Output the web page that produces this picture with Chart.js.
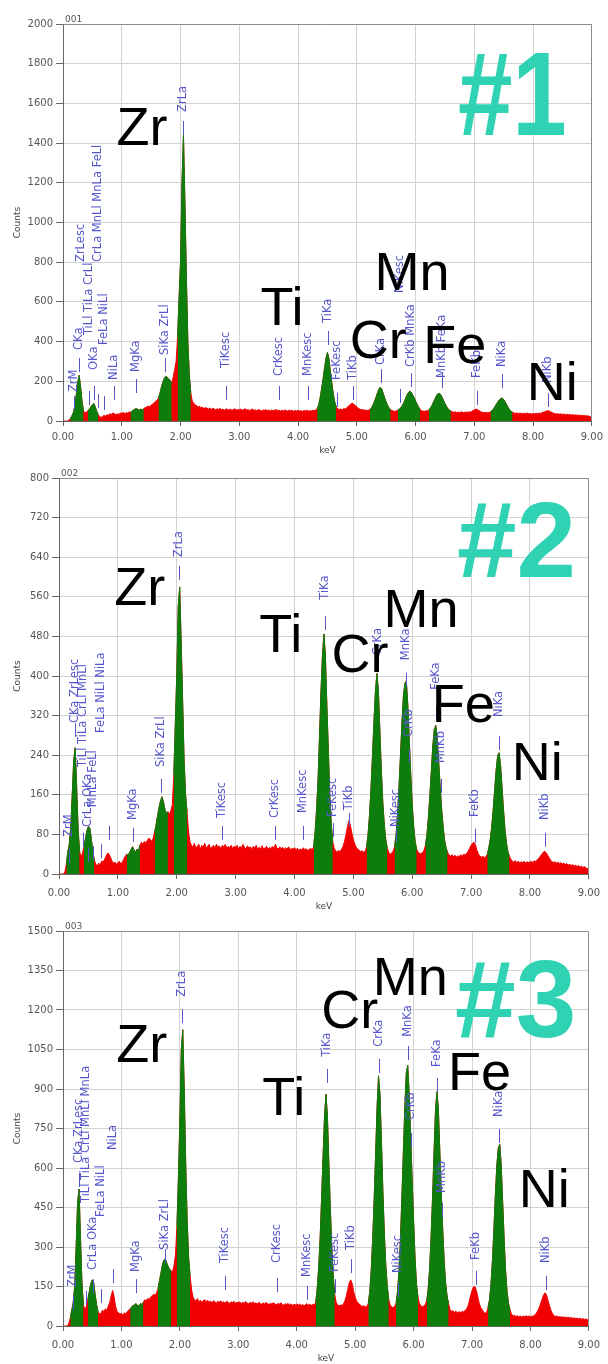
<!DOCTYPE html>
<html><head><meta charset="utf-8">
<script src="https://cdn.jsdelivr.net/npm/chart.js@4.4.0/dist/chart.umd.min.js"></script>
<style>
html,body{margin:0;padding:0;background:#fff;width:608px;height:1364px;overflow:hidden}
.panel{position:absolute;left:0;width:608px}
</style></head><body>
<div class="panel" style="top:0;height:456px"><canvas id="c1"></canvas></div>
<div class="panel" style="top:456px;height:456px"><canvas id="c2"></canvas></div>
<div class="panel" style="top:912px;height:452px"><canvas id="c3"></canvas></div>
<script>
// channel energies (keV)
const energyKeV = [
0,0.025,0.05,0.075,0.1,0.125,0.15,0.175,0.2,0.225,0.25,0.275,0.3,0.325,0.35,0.375,0.4,0.425,0.45,0.475,0.5,0.525,0.55,0.575,0.6,0.625,0.65,0.675,0.7,0.725,0.75,0.775,0.8,0.825,0.85,0.875,0.9,0.925,0.95,0.975,
1,1.025,1.05,1.075,1.1,1.125,1.15,1.175,1.2,1.225,1.25,1.275,1.3,1.325,1.35,1.375,1.4,1.425,1.45,1.475,1.5,1.525,1.55,1.575,1.6,1.625,1.65,1.675,1.7,1.725,1.75,1.775,1.8,1.825,1.85,1.875,1.9,1.925,1.95,1.975,
2,2.025,2.05,2.075,2.1,2.125,2.15,2.175,2.2,2.225,2.25,2.275,2.3,2.325,2.35,2.375,2.4,2.425,2.45,2.475,2.5,2.525,2.55,2.575,2.6,2.625,2.65,2.675,2.7,2.725,2.75,2.775,2.8,2.825,2.85,2.875,2.9,2.925,2.95,2.975,
3,3.025,3.05,3.075,3.1,3.125,3.15,3.175,3.2,3.225,3.25,3.275,3.3,3.325,3.35,3.375,3.4,3.425,3.45,3.475,3.5,3.525,3.55,3.575,3.6,3.625,3.65,3.675,3.7,3.725,3.75,3.775,3.8,3.825,3.85,3.875,3.9,3.925,3.95,3.975,
4,4.025,4.05,4.075,4.1,4.125,4.15,4.175,4.2,4.225,4.25,4.275,4.3,4.325,4.35,4.375,4.4,4.425,4.45,4.475,4.5,4.525,4.55,4.575,4.6,4.625,4.65,4.675,4.7,4.725,4.75,4.775,4.8,4.825,4.85,4.875,4.9,4.925,4.95,4.975,
5,5.025,5.05,5.075,5.1,5.125,5.15,5.175,5.2,5.225,5.25,5.275,5.3,5.325,5.35,5.375,5.4,5.425,5.45,5.475,5.5,5.525,5.55,5.575,5.6,5.625,5.65,5.675,5.7,5.725,5.75,5.775,5.8,5.825,5.85,5.875,5.9,5.925,5.95,5.975,
6,6.025,6.05,6.075,6.1,6.125,6.15,6.175,6.2,6.225,6.25,6.275,6.3,6.325,6.35,6.375,6.4,6.425,6.45,6.475,6.5,6.525,6.55,6.575,6.6,6.625,6.65,6.675,6.7,6.725,6.75,6.775,6.8,6.825,6.85,6.875,6.9,6.925,6.95,6.975,
7,7.025,7.05,7.075,7.1,7.125,7.15,7.175,7.2,7.225,7.25,7.275,7.3,7.325,7.35,7.375,7.4,7.425,7.45,7.475,7.5,7.525,7.55,7.575,7.6,7.625,7.65,7.675,7.7,7.725,7.75,7.775,7.8,7.825,7.85,7.875,7.9,7.925,7.95,7.975,
8,8.025,8.05,8.075,8.1,8.125,8.15,8.175,8.2,8.225,8.25,8.275,8.3,8.325,8.35,8.375,8.4,8.425,8.45,8.475,8.5,8.525,8.55,8.575,8.6,8.625,8.65,8.675,8.7,8.725,8.75,8.775,8.8,8.825,8.85,8.875,8.9,8.925,8.95,8.975,9
];

// spectrum 001
const counts1 = [
0,0,0,0,4,12,25,40,75,130,195,230,170,95,50,42,45,52,60,72,82,88,70,48,32,22,18,24,28,25,32,30,36,34,40,38,30,36,33,40,
38,44,36,42,40,46,44,50,55,60,62,58,55,60,56,62,68,70,76,72,80,85,92,98,105,115,140,170,195,215,225,220,210,205,190,220,260,300,420,620,
800,1200,1440,1100,720,400,230,140,100,90,80,78,70,74,66,70,62,68,64,60,66,58,64,60,56,62,58,64,56,60,54,62,58,55,60,54,58,62,55,58,
56,60,54,58,62,55,58,52,57,60,54,56,52,58,55,50,56,53,58,52,55,50,56,52,54,58,52,55,50,54,51,56,52,50,55,51,54,49,53,50,
54,50,52,48,53,50,55,49,52,50,54,52,56,62,80,115,160,210,265,315,345,315,250,190,135,95,70,62,58,60,56,62,60,66,72,80,86,90,84,78,
70,64,60,56,58,54,56,52,55,58,66,80,98,118,140,160,170,160,138,115,95,78,65,58,52,50,48,52,55,60,66,78,92,110,128,142,150,145,132,118,
100,85,70,60,52,50,48,52,50,55,64,76,92,108,124,136,140,134,120,104,88,74,62,55,50,46,44,46,42,45,43,46,44,42,45,43,46,44,48,52,
56,60,58,54,48,45,43,42,44,41,43,46,52,60,72,84,96,106,113,115,108,96,82,68,57,49,44,40,38,41,37,40,38,36,39,37,40,36,38,35,
38,36,39,37,40,38,42,44,47,50,52,50,46,42,39,37,35,37,34,36,33,35,32,34,31,33,30,32,29,31,28,30,27,29,26,28,25,27,24,22,20
];

// spectrum 002
const counts2 = [
0,0,0,0,4,20,45,60,95,160,230,255,175,90,45,35,42,55,72,88,96,92,70,45,28,20,16,22,18,26,24,30,36,42,40,34,26,22,24,20,
22,26,20,24,30,36,40,38,44,50,55,48,44,50,46,58,64,60,66,62,68,72,70,66,72,85,100,118,135,148,156,145,130,122,126,120,128,140,200,300,
400,540,580,470,350,230,160,125,85,65,58,55,62,52,56,60,50,58,54,62,52,56,60,50,55,58,52,60,54,57,50,58,54,60,52,56,53,58,51,56,
54,58,50,56,52,60,54,50,57,52,55,49,56,52,58,50,54,51,57,50,53,56,49,54,51,56,52,60,53,50,55,51,54,49,53,50,55,48,52,50,
53,49,52,47,51,48,53,49,51,47,50,52,48,55,85,130,190,280,370,440,485,440,340,250,160,100,65,52,46,44,48,45,50,56,66,80,96,108,98,82,
70,60,54,50,48,45,47,44,46,55,80,120,175,240,310,370,405,370,290,210,145,100,70,52,44,40,42,46,55,80,120,175,240,305,360,385,390,340,270,200,
140,95,65,50,44,42,40,44,48,58,80,115,160,210,260,292,300,275,225,175,130,95,68,52,44,38,36,39,35,38,34,37,35,39,36,40,38,42,46,52,
58,62,64,58,48,40,36,34,36,33,35,40,52,70,95,130,170,210,238,245,220,175,130,90,62,45,36,30,26,24,27,23,26,22,25,23,26,22,25,23,
24,26,23,27,25,29,32,36,40,44,46,43,38,33,28,25,23,25,22,24,21,23,20,22,19,21,18,20,17,19,16,18,15,17,14,16,13,15,12,11,10
];

// spectrum 003
const counts3 = [
0,0,0,0,10,30,60,90,150,300,470,520,330,160,80,60,75,100,130,160,175,165,120,80,55,45,48,60,55,65,60,75,90,115,135,110,75,55,50,45,
48,42,50,46,55,60,65,72,78,80,85,78,75,85,82,90,100,95,105,100,110,115,120,118,125,140,170,200,230,250,255,240,225,215,210,205,230,270,380,560,
780,1050,1125,900,620,400,260,190,140,110,100,95,104,92,98,90,96,100,92,98,90,95,88,96,92,86,94,90,96,88,92,86,94,90,85,92,88,94,86,90,
88,92,85,90,86,93,87,84,90,86,92,85,88,83,90,86,82,88,84,90,85,81,87,83,89,84,80,86,82,88,83,79,85,81,86,80,84,78,83,80,
84,79,83,78,82,77,81,85,79,83,78,82,80,90,140,220,330,480,640,790,880,800,620,450,300,190,120,90,80,76,80,78,84,95,115,140,165,175,160,130,
110,95,88,82,78,74,77,72,75,85,130,210,330,480,650,830,950,880,700,510,350,230,150,100,80,72,70,74,85,130,210,330,490,660,830,960,990,880,720,560,
400,260,160,110,85,78,72,76,82,95,140,220,340,490,660,820,890,820,660,500,360,240,160,110,85,62,56,58,52,56,50,54,51,55,53,58,62,72,90,115,
135,148,150,135,110,85,70,62,52,48,52,70,100,160,250,370,500,610,675,690,610,470,330,210,130,85,62,46,38,41,36,39,35,38,34,38,35,39,36,38,
35,38,37,42,48,58,70,85,102,118,126,118,98,78,60,48,40,36,38,34,36,33,35,32,34,31,33,30,32,29,31,28,30,27,29,26,28,25,27,24,22
];

// energy windows of identified peaks (drawn green)
const peakWindows = [[0.125,0.35],[0.425,0.6],[1.15,1.375],[1.625,1.85],[1.95,2.175],[4.325,4.65],[5.225,5.575],[5.7,6.075],[6.225,6.6],[7.275,7.65]];

// tick labels
const xTicks = [0,1,2,3,4,5,6,7,8,9];
const yTicks1 = [0,200,400,600,800,1000,1200,1400,1600,1800,2000];
const yTicks2 = [0,80,160,240,320,400,480,560,640,720,800];
const yTicks3 = [0,150,300,450,600,750,900,1050,1200,1350,1500];
const spectrumTags = ["001","002","003"];

// line markers: [label, keV, text start (counts), marker line (counts)]
const markers1 = [
["ZrM",0.18,146,55],["CKa",0.28,358,247],["ZrLesc",0.30,801,null],["TiLl TiLa CrLl",0.44,433,81],
["OKa",0.53,257,106],["CrLa MnLl MnLa FeLl",0.60,801,65],["FeLa NiLl",0.70,383,55],["NiLa",0.86,207,106],
["MgKa",1.25,247,141],["SiKa ZrLl",1.74,332,247],["ZrLa",2.04,1557,1441],["TiKesc",2.77,267,106],
["CrKesc",3.68,227,106],["MnKesc",4.17,227,106],["TiKa",4.51,494,383],["FeKesc",4.66,207,71],
["TiKb",4.93,207,106],["CrKa",5.41,282,191],["NiKesc",5.73,645,91],["CrKb MnKa",5.92,272,171],
["MnKb FeKa",6.45,217,166],["FeKb",7.05,217,81],["NiKa",7.47,272,166],["NiKb",8.26,191,71]
];
const markers2 = [
["ZrM",0.17,75,22],["CKa ZrLesc",0.28,305,277],["TiLl TiLa CrLl MnLl",0.40,216,55],["CrLa OKa",0.50,95,24],
["MnLa FeLl",0.58,135,28],["FeLa NiLl NiLa",0.72,285,32],["",0.85,0,69],["MgKa",1.25,109,65],
["SiKa ZrLl",1.74,216,164],["ZrLa",2.04,640,594],["TiKesc",2.77,113,69],["CrKesc",3.67,113,69],
["MnKesc",4.14,123,69],["TiKa",4.51,554,493],["FeKesc",4.66,115,75],["TiKb",4.93,129,95],
["CrKa",5.41,442,408],["NiKesc",5.73,95,63],["MnKa",5.90,432,378],["CrKb",5.95,277,224],
["FeKa",6.40,372,311],["MnKb",6.49,224,164],["FeKb",7.06,115,63],["NiKa",7.47,317,250],["NiKb",8.26,109,55]
];
const markers3 = [
["ZrM",0.17,148,61],["CKa ZrLesc",0.27,619,528],["TiLl TiLa CrLl MnLl MnLa",0.40,467,80],["CrLa OKa",0.52,213,125],
["FeLa NiLl",0.65,414,87],["NiLa",0.85,668,163],["MgKa",1.25,205,125],["SiKa ZrLl",1.74,289,239],
["ZrLa",2.04,1250,1150],["TiKesc",2.77,239,137],["CrKesc",3.67,239,129],["MnKesc",4.17,186,99],
["TiKa",4.51,1022,923],["FeKesc",4.66,205,125],["TiKb",4.93,289,201],["CrKa",5.41,1060,961],
["NiKesc",5.73,201,110],["MnKa",5.90,1098,1010],["CrKb",5.95,782,680],["FeKa",6.40,984,889],
["MnKb",6.49,505,414],["FeKb",7.06,251,156],["NiKa",7.47,794,695],["NiKb",8.26,239,137]
];

// element captions: [text, keV, counts]
const elements1 = [["Zr",0.91,1390],["Ti",3.36,484],["Cr",4.88,317],["Mn",5.30,660],["Fe",6.13,292],["Ni",7.89,106]];
const elements2 = [["Zr",0.94,543],["Ti",3.40,448],["Cr",4.63,408],["Mn",5.51,499],["Fe",6.33,307],["Ni",7.69,190]];
const elements3 = [["Zr",0.91,1003],["Ti",3.41,801],["Cr",4.42,1132],["Mn",5.30,1257],["Fe",6.59,896],["Ni",7.80,452]];
const sample1 = ["#1",6.72,1441];
const sample2 = ["#2",6.76,600];
const sample3 = ["#3",6.71,1098];

const RED = '#f00000', GREEN = '#0d7d0d', MARK = '#5656cc', TEAL = '#2fd3b3';

const annot = {
  id: 'annot',
  afterDatasetsDraw(chart, args, o) {
    const {ctx, scales:{x, y}} = chart;
    ctx.save();
    ctx.strokeStyle = MARK; ctx.fillStyle = MARK; ctx.lineWidth = 1;
    ctx.font = '11.5px "DejaVu Sans", sans-serif';
    for (const [label, e, tc, lc] of o.markers) {
      const px = Math.round(x.getPixelForValue(e)) + 0.5;
      if (lc !== null) {
        const py = y.getPixelForValue(lc);
        ctx.beginPath(); ctx.moveTo(px, py); ctx.lineTo(px, py - 14); ctx.stroke();
      }
      if (label) {
        ctx.save();
        ctx.translate(px, y.getPixelForValue(tc));
        ctx.rotate(-Math.PI / 2);
        ctx.textAlign = 'left'; ctx.textBaseline = 'middle';
        ctx.fillText(label, 0, 0);
        ctx.restore();
      }
    }
    ctx.fillStyle = '#000';
    ctx.font = '54px "Liberation Sans", Arial, sans-serif';
    ctx.textAlign = 'left'; ctx.textBaseline = 'alphabetic';
    for (const [t, e, c] of o.elements) ctx.fillText(t, x.getPixelForValue(e), y.getPixelForValue(c));
    ctx.save();
    ctx.fillStyle = TEAL;
    ctx.font = 'bold ' + o.sampleSize + 'px "Liberation Sans", Arial, sans-serif';
    ctx.translate(x.getPixelForValue(o.sample[1]), y.getPixelForValue(o.sample[2]));
    ctx.scale(o.sampleScaleX, 1);
    ctx.fillText(o.sample[0], 0, 0);
    ctx.restore();
    ctx.restore();
  },
  afterDraw(chart, args, o) {
    const {ctx, chartArea:a} = chart;
    ctx.save();
    ctx.strokeStyle = '#8c8c8c'; ctx.lineWidth = 1;
    ctx.beginPath();
    ctx.moveTo(Math.round(a.left) + 0.5, Math.round(a.top) + 0.5);
    ctx.lineTo(Math.round(a.right) - 0.5, Math.round(a.top) + 0.5);
    ctx.lineTo(Math.round(a.right) - 0.5, Math.round(a.bottom));
    ctx.stroke();
    ctx.fillStyle = '#555';
    ctx.font = '9px "DejaVu Sans", sans-serif';
    ctx.textAlign = 'left'; ctx.textBaseline = 'alphabetic';
    ctx.fillText(o.tag, a.left + 2, a.top - 2);
    ctx.restore();
  }
};

function inPeak(e) { return peakWindows.some(w => e >= w[0] - 1e-6 && e <= w[1] + 1e-6); }

function build(id, counts, yTicks, markers, elements, sample, sampleSize, sampleScaleX, tag, padTop, axisLeft, axisBottom, xPad) {
  const red = energyKeV.map((e, i) => ({x: e, y: counts[i]}));
  const green = energyKeV.map((e, i) => ({x: e, y: inPeak(e) ? counts[i] : null}));
  const tickFont = {family: 'DejaVu Sans', size: 10};
  new Chart(document.getElementById(id), {
    type: 'line',
    data: {datasets: [
      {data: green, borderColor: GREEN, backgroundColor: GREEN, fill: 'origin', borderWidth: 1, pointRadius: 0, spanGaps: false, tension: 0},
      {data: red, borderColor: RED, backgroundColor: RED, fill: 'origin', borderWidth: 1, pointRadius: 0, tension: 0}
    ]},
    options: {
      responsive: true, maintainAspectRatio: false, animation: false,
      layout: {padding: {top: padTop, right: 12, left: 0, bottom: 0}},
      plugins: {legend: {display: false}, tooltip: {enabled: false},
        annot: {markers, elements, sample, sampleSize, sampleScaleX, tag}},
      scales: {
        x: {type: 'linear', min: 0, max: 9,
          afterBuildTicks: s => { s.ticks = xTicks.map(v => ({value: v})); },
          afterFit: s => { s.height = axisBottom; },
          ticks: {autoSkip: false, maxRotation: 0, padding: xPad, color: '#555', font: tickFont, callback: v => Number(v).toFixed(2)},
          grid: {color: '#d2d2d2', tickColor: '#666', tickLength: 5},
          border: {color: '#666'},
          title: {display: true, text: 'keV', color: '#444', font: {family: 'DejaVu Sans', size: 9}, padding: {top: 0, bottom: 0}}
        },
        y: {type: 'linear', min: 0, max: yTicks[yTicks.length - 1],
          afterBuildTicks: s => { s.ticks = yTicks.map(v => ({value: v})); },
          afterFit: s => { s.width = axisLeft; },
          ticks: {padding: 3, color: '#555', font: tickFont, callback: v => String(v)},
          grid: {color: '#d2d2d2', tickColor: '#666', tickLength: 7},
          border: {color: '#666'},
          title: {display: true, text: 'Counts', color: '#444', font: {family: 'DejaVu Sans', size: 9}, padding: {top: 12, bottom: 0}}
        }
      }
    },
    plugins: [annot]
  });
}

build('c1', counts1, yTicks1, markers1, elements1, sample1, 118, 0.83, spectrumTags[0], 24, 63, 35, 5);
build('c2', counts2, yTicks2, markers2, elements2, sample2, 107, 1, spectrumTags[1], 22, 59, 38, 8);
build('c3', counts3, yTicks3, markers3, elements3, sample3, 109, 1, spectrumTags[2], 19, 63, 38, 8);
</script>
</body></html>
